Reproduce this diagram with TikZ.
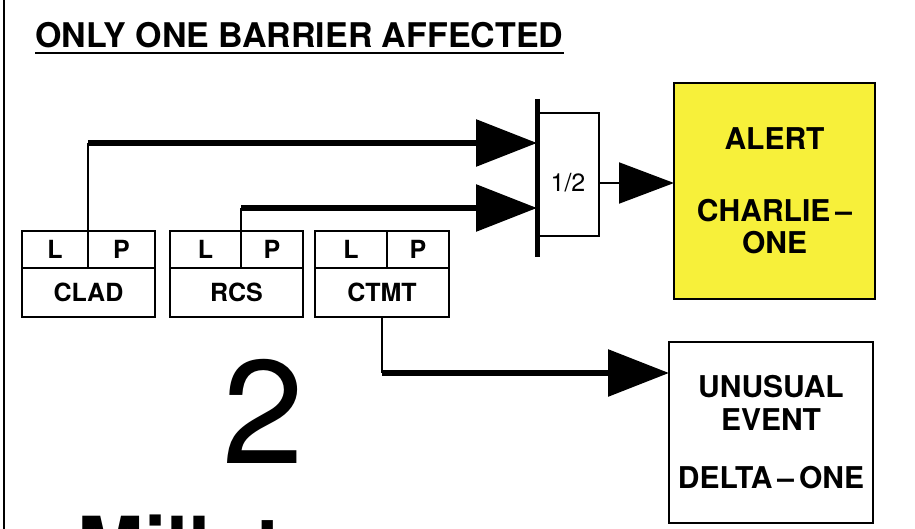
\documentclass[tikz,border=0pt]{standalone}
\usepackage{fontspec}
\setmainfont{TeX Gyre Heros}
\usetikzlibrary{arrows.meta,positioning,calc}
\definecolor{AlertYellow}{HTML}{F7F03A}
\tikzset{
  cellbox/.style={draw, line width=1pt, outer sep=0pt, inner sep=0pt, minimum height=18.5pt, font=\fontsize{12.5}{13}\selectfont\bfseries},
  namebox/.style={draw, line width=1pt, outer sep=0pt, inner sep=0pt, minimum height=24.5pt, minimum width=66.5pt, font=\fontsize{12.5}{14}\selectfont\bfseries},
  gatebox/.style={draw, line width=1pt, outer sep=0pt, minimum width=31pt, minimum height=61.5pt},
  alertbox/.style={draw, line width=1pt, outer sep=0pt, fill=AlertYellow, align=center, minimum width=100.5pt, minimum height=108pt, font=\fontsize{15}{16}\selectfont\bfseries},
  eventbox/.style={draw, line width=1pt, outer sep=0pt, align=center, minimum width=102pt, minimum height=90.5pt, font=\fontsize{15}{16.5}\selectfont\bfseries},
  feed/.style={line width=1pt},
  bigarrow/.style={-{Triangle[length=30.5pt,width=23pt]}, line width=3pt},
  outarrow/.style={-{Triangle[length=27.5pt,width=20.5pt]}, line width=1pt}
}
\begin{document}
\begin{tikzpicture}[x=0.5pt, y=0.5pt]
    \useasboundingbox (0,0) rectangle (915,-529);
    \draw[line width=1pt] (4,0) -- (4,-529);

    % heading
    \node[font=\fontsize{17}{19}\selectfont\bfseries, inner sep=0pt, anchor=base west] (title) at (35,-48) {ONLY ONE BARRIER AFFECTED};
    \draw[line width=1pt] ([yshift=-2.5pt]title.base west) -- ([yshift=-2.5pt]title.base east);

    % barriers
    \node[namebox] (clad) at (88.5,-292.5) {CLAD};
    \node[cellbox, minimum width=33pt, anchor=south west] (cladL) at (clad.north west) {L};
    \node[cellbox, minimum width=33.5pt, anchor=south east] (cladP) at (clad.north east) {P};
    \node[namebox, right=7.5pt of clad] (rcs) {RCS};
    \node[cellbox, minimum width=35.5pt, anchor=south west] (rcsL) at (rcs.north west) {L};
    \node[cellbox, minimum width=31pt, anchor=south east] (rcsP) at (rcs.north east) {P};
    \node[namebox, minimum width=67pt, right=6pt of rcs] (ctmt) {CTMT};
    \node[cellbox, minimum width=36pt, anchor=south west] (ctmtL) at (ctmt.north west) {L};
    \node[cellbox, minimum width=31pt, anchor=south east] (ctmtP) at (ctmt.north east) {P};

    % 1 out of 2 logic
    \node[gatebox] (gate) at (568,-174.5) {};
    \node[font=\fontsize{12.5}{14}\selectfont, inner sep=0pt] (half) at ($(gate.center)+(0,-8.5)$) {1/2};
    \draw[line width=2.5pt] ($(gate.north west)+(0,14)$) -- ($(gate.south west)+(0,-21)$);

    % classifications
    \node[alertbox] (alert) at (774.5,-191) {ALERT\\[20pt]CHARLIE\,--\\ONE};
    \node[eventbox] (event) at (771,-432.5) {UNUSUAL\\EVENT\\[12.5pt]DELTA\,--\,ONE};

    \node[font=\fontsize{73.5}{80}\selectfont, inner sep=0pt, anchor=base] (two) at (263.5,-463) {2};
    \begin{scope}
      \clip (0,0) rectangle (915,-529);
      \node[font=\fontsize{40}{44}\selectfont\bfseries, inner sep=0pt, anchor=base west] (plant) at (77,-574) {Millstone};
    \end{scope}

    \coordinate (c1) at ($(cladL.north east)+(0,88)$);
    \coordinate (c2) at ($(rcsL.north east)+(0,23)$);
    \coordinate (c3) at ($(ctmt.south)+(0,-56)$);
    \draw[feed] (cladL.north east) -- (c1);
    \draw[bigarrow] (c1) -- (c1 -| gate.west);
    \draw[feed] (rcsL.north east) -- (c2);
    \draw[bigarrow] (c2) -- (c2 -| gate.west);
    \draw[outarrow] (half -| gate.east) -- (half -| alert.west);
    \draw[feed] (ctmt.south) -- (c3);
    \draw[bigarrow] (c3) -- (c3 -| event.west);
\end{tikzpicture}
\end{document}
